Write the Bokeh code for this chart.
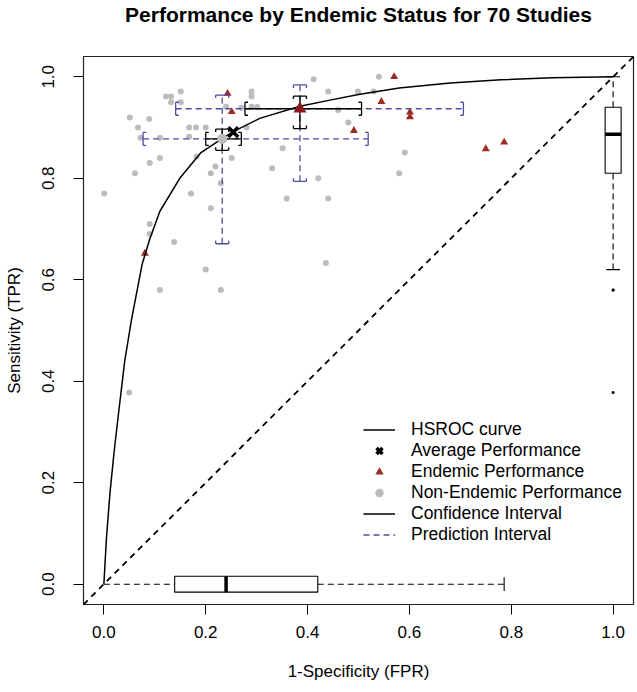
from bokeh.plotting import figure
from bokeh.models import (Range1d, FixedTicker, PrintfTickFormatter, Legend, LegendItem, Slope, Title)
from bokeh.embed import file_html
from bokeh.resources import INLINE

# ---------------- data ----------------
fpr_non = [0.412, 0.122, 0.132, 0.151, 0.132, 0.151, 0.290, 0.290, 0.290, 0.301,
           0.270, 0.240, 0.4405, 0.460, 0.480, 0.051, 0.089, 0.067, 0.072, 0.110,
           0.1675, 0.181, 0.200, 0.1675, 0.280, 0.090, 0.110, 0.061, 0.182, 0.219,
           0.210, 0.251, 0.351, 0.3305, 0.421, 0.0006, 0.171, 0.2297, 0.210, 0.359,
           0.4405, 0.090, 0.090, 0.138, 0.200, 0.436, 0.110, 0.2297, 0.0497, 0.540,
           0.499, 0.530, 0.591, 0.580]
tpr_non = [0.995, 0.961, 0.961, 0.971, 0.950, 0.950, 0.971, 0.961, 0.941, 0.941,
           0.939, 0.941, 0.971, 0.9345, 0.910, 0.920, 0.917, 0.900, 0.880, 0.880,
           0.900, 0.900, 0.900, 0.882, 0.900, 0.830, 0.840, 0.810, 0.843, 0.823,
           0.810, 0.840, 0.859, 0.820, 0.800, 0.770, 0.770, 0.790, 0.741, 0.760,
           0.760, 0.710, 0.690, 0.6745, 0.620, 0.633, 0.580, 0.580, 0.378, 1.000,
           0.971, 0.971, 0.851, 0.810]

fpr_end = [0.243, 0.251, 0.491, 0.0805, 0.570, 0.545, 0.601, 0.601, 0.750, 0.786]
tpr_end = [0.967, 0.931, 0.894, 0.652, 1.000, 0.951, 0.930, 0.921, 0.858, 0.871]

# HSROC curve, points
curve_fpr = [0.000, 0.005, 0.012, 0.020, 0.028, 0.041, 0.054, 0.075, 0.090, 0.110,
             0.149, 0.190, 0.232, 0.254, 0.306, 0.385, 0.444, 0.500, 0.580, 0.680,
             0.780, 0.880, 1.000]
curve_tpr = [0.000, 0.090, 0.180, 0.260, 0.330, 0.440, 0.520, 0.630, 0.680, 0.735,
             0.800, 0.850, 0.878, 0.892, 0.918, 0.942, 0.954, 0.965, 0.978, 0.988,
             0.994, 0.998, 1.000]

# summary points: non-endemic, endemic
sum_fpr = [0.2324, 0.385]
sum_tpr = [0.8776, 0.937]
avg_fpr = [0.254]
avg_tpr = [0.891]

# confidence / prediction intervals (non-endemic, endemic)
ci_fpr_lo = [0.200, 0.277]
ci_fpr_hi = [0.270, 0.506]
ci_tpr_lo = [0.855, 0.898]
ci_tpr_hi = [0.897, 0.962]
pi_fpr_lo = [0.077, 0.141]
pi_fpr_hi = [0.519, 0.706]
pi_tpr_lo = [0.671, 0.794]
pi_tpr_hi = [0.964, 0.984]

# marginal boxplots: [low whisker, q1, median, q3, high whisker]
fpr_box = [0.000, 0.139, 0.240, 0.420, 0.786]
tpr_box = [0.620, 0.810, 0.887, 0.940, 1.000]
tpr_out = [0.580, 0.580, 0.378]

x_ticks = [0.0, 0.2, 0.4, 0.6, 0.8, 1.0]
y_ticks = [0.0, 0.2, 0.4, 0.6, 0.8, 1.0]

TITLE = "Performance by Endemic Status for 70 Studies"

# ---------------- style ----------------
FONT = "Liberation Sans"
PI_COL = "#4d4d9f"
GREY = "#bcbcbc"
END_COL = "#9c2b22"
CAP = 0.0128   # bracket half-length (data units)
TK = 0.006     # bracket inward tick
BOXH = 0.0157  # boxplot half-width
STAP = 0.0135  # boxplot staple half-length

p = figure(width=635, height=684, x_range=Range1d(-0.04, 1.04), y_range=Range1d(-0.04, 1.04),
           output_backend="svg", toolbar_location=None, title=None,
           min_border_left=83, min_border_right=2, min_border_top=55, min_border_bottom=80)
p.xgrid.visible = False
p.ygrid.visible = False
p.outline_line_color = "#222222"
p.outline_line_width = 1.2
p.background_fill_color = "white"

# spacer between frame and title, then the title itself
p.add_layout(Title(text=" ", text_font=FONT, text_font_size="12px", standoff=15), "above")
p.add_layout(Title(text=TITLE, text_font=FONT, text_font_size="21px", text_font_style="bold",
                   align="center", text_color="black", standoff=0), "above")

for ax, ticks in ((p.xaxis, x_ticks), (p.yaxis, y_ticks)):
    ax.ticker = FixedTicker(ticks=ticks)
    ax.formatter = PrintfTickFormatter(format="%.1f")
    ax.axis_line_color = None
    ax.major_tick_out = 10
    ax.major_tick_in = 0
    ax.minor_tick_line_color = None
    ax.major_tick_line_color = "black"
    ax.major_label_text_font = FONT
    ax.major_label_text_font_size = "17px"
    ax.major_label_text_color = "black"
    ax.axis_label_text_font = FONT
    ax.axis_label_text_font_size = "17px"
    ax.axis_label_text_font_style = "normal"
    ax.axis_label_text_color = "black"
p.xaxis.axis_label = "1-Specificity (FPR)"
p.yaxis.axis_label = "Sensitivity (TPR)"
p.xaxis.major_label_standoff = 11
p.xaxis.axis_label_standoff = 21
p.yaxis.major_label_orientation = "vertical"
p.yaxis.major_label_standoff = 19
p.yaxis.axis_label_standoff = 16

# diagonal reference line
p.add_layout(Slope(gradient=1, y_intercept=0, line_color="black", line_width=1.8, line_dash="6 5"))

# study points
r_non = p.scatter(fpr_non, tpr_non, marker="circle", size=6, fill_color=GREY, line_color=None)
r_end = p.scatter(fpr_end, tpr_end, marker="triangle", size=8, fill_color=END_COL, line_color=None)

# HSROC curve
r_curve = p.line(curve_fpr, curve_tpr, line_color="black", line_width=1.5)

def interval_segments(xlo, xhi, ycen, ylo, yhi, xcen):
    """bracketed intervals built from the interval arrays"""
    mx0, my0, mx1, my1 = [], [], [], []
    cx0, cy0, cx1, cy1 = [], [], [], []
    for a, b, yc in zip(xlo, xhi, ycen):
        mx0.append(a); my0.append(yc); mx1.append(b); my1.append(yc)
        for e, d in ((a, 1), (b, -1)):
            cx0 += [e, e, e]; cy0 += [yc - CAP, yc - CAP, yc + CAP]
            cx1 += [e, e + d * TK, e + d * TK]; cy1 += [yc + CAP, yc - CAP, yc + CAP]
    for a, b, xc in zip(ylo, yhi, xcen):
        mx0.append(xc); my0.append(a); mx1.append(xc); my1.append(b)
        for e, d in ((a, 1), (b, -1)):
            cx0 += [xc - CAP, xc - CAP, xc + CAP]; cy0 += [e, e, e]
            cx1 += [xc + CAP, xc - CAP, xc + CAP]; cy1 += [e, e + d * TK, e + d * TK]
    return (mx0, my0, mx1, my1), (cx0, cy0, cx1, cy1)

(pm, pc) = interval_segments(pi_fpr_lo, pi_fpr_hi, sum_tpr, pi_tpr_lo, pi_tpr_hi, sum_fpr)
r_pi = p.segment(*pm, line_color=PI_COL, line_width=1.3, line_dash="6 4")
p.segment(*pc, line_color=PI_COL, line_width=1.3)

(cm, cc) = interval_segments(ci_fpr_lo, ci_fpr_hi, sum_tpr, ci_tpr_lo, ci_tpr_hi, sum_fpr)
r_ci = p.segment(*cm, line_color="black", line_width=1.3)
p.segment(*cc, line_color="black", line_width=1.3)

# summary points
p.scatter(sum_fpr[:1], sum_tpr[:1], marker="circle", size=10, fill_color=GREY, line_color=None)
p.scatter(sum_fpr[1:], sum_tpr[1:], marker="triangle", size=13, fill_color="#8b1a1a", line_color=None)
r_avg = p.scatter(avg_fpr, avg_tpr, marker="x", size=14, line_color="black", line_width=3.6)

# boxplot of FPR at sensitivity 0
lo, q1, md, q3, hi = fpr_box
p.segment([lo, q3], [0, 0], [q1, hi], [0, 0], line_color="black", line_width=1.1, line_dash="6 4")
p.segment([hi], [-STAP], [hi], [STAP], line_color="black", line_width=1.1)
p.quad(left=[q1], right=[q3], bottom=[-BOXH], top=[BOXH], fill_color="white", line_color="black", line_width=1.1)
p.segment([md], [-BOXH], [md], [BOXH], line_color="black", line_width=3.5)

# boxplot of sensitivity at FPR 1
lo, q1, md, q3, hi = tpr_box
p.segment([1, 1], [lo, q3], [1, 1], [q1, hi], line_color="black", line_width=1.1, line_dash="6 4")
p.segment([1 - STAP, 1 - STAP], [lo, hi], [1 + STAP, 1 + STAP], [lo, hi], line_color="black", line_width=1.1)
p.quad(left=[1 - BOXH], right=[1 + BOXH], bottom=[q1], top=[q3], fill_color="white", line_color="black", line_width=1.1)
p.segment([1 - BOXH], [md], [1 + BOXH], [md], line_color="black", line_width=3.5)
p.scatter([1] * len(tpr_out), tpr_out, marker="circle", size=3, fill_color="black", line_color=None)

legend = Legend(items=[
    LegendItem(label="HSROC curve", renderers=[r_curve]),
    LegendItem(label="Average Performance", renderers=[r_avg]),
    LegendItem(label="Endemic Performance", renderers=[r_end]),
    LegendItem(label="Non-Endemic Performance", renderers=[r_non]),
    LegendItem(label="Confidence Interval", renderers=[r_ci]),
    LegendItem(label="Prediction Interval", renderers=[r_pi]),
], location=(280, 59))
legend.label_text_font = FONT
legend.label_text_font_size = "17.5px"
legend.label_text_color = "black"
legend.glyph_width = 32
legend.glyph_height = 21
legend.label_height = 21
legend.spacing = 0
legend.padding = 0
legend.margin = 0
legend.label_standoff = 16
legend.border_line_color = None
legend.background_fill_alpha = 0
p.add_layout(legend)

open("out.html", "w").write(file_html(p, INLINE))
